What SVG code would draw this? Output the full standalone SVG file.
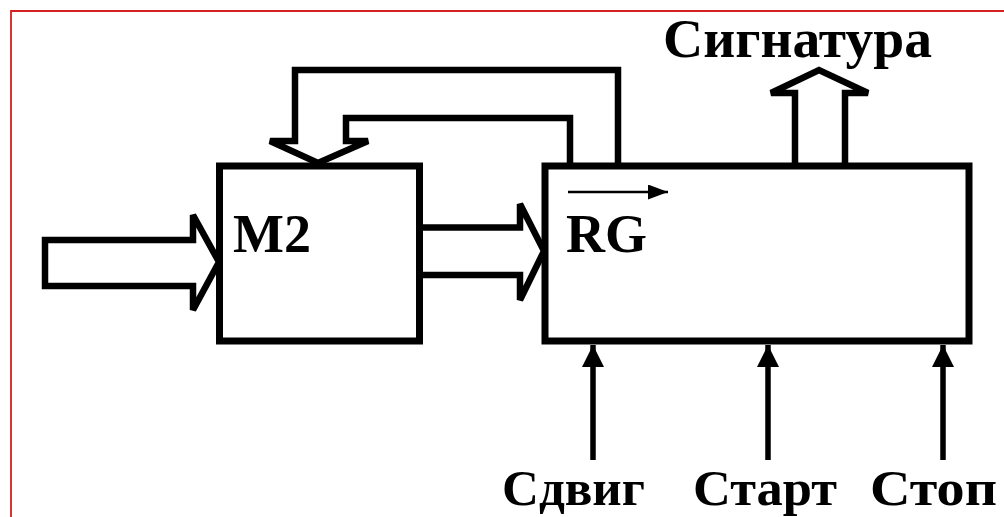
<svg xmlns="http://www.w3.org/2000/svg" width="1004" height="517" viewBox="0 0 1004 517">
<style>
.box{fill:none;stroke:#000;stroke-width:7;stroke-linejoin:miter}
.bus{fill:none;stroke:#000;stroke-width:6.5;stroke-linejoin:miter;stroke-linecap:square}
.sig{fill:none;stroke:#000;stroke-width:5.5}
.lbl{font-family:"Liberation Serif","Times New Roman",serif;font-weight:bold;fill:#000}
</style>
<defs>
<marker id="ah" markerWidth="4" markerHeight="4" refX="4" refY="2" orient="auto" markerUnits="strokeWidth">
<path d="M0,0 L4,2 L0,4 Z" fill="#000"/>
</marker>
<marker id="sm" markerWidth="8" markerHeight="6" refX="8" refY="3" orient="auto" markerUnits="strokeWidth">
<path d="M0,0 L8,3 L0,6 Z" fill="#000"/>
</marker>
</defs>
<rect x="0" y="0" width="1004" height="517" fill="#fff"/>
<path d="M11,517 V11 H1004" fill="none" stroke="#d42020" stroke-width="1.8"/>

<g id="M2">
<rect class="box" x="219.5" y="166" width="200" height="175"/>
<text class="lbl" x="233" y="252" font-size="54">M2</text>
</g>

<g id="RG">
<rect class="box" x="545" y="166" width="424" height="175"/>
<text class="lbl" x="566" y="252" font-size="54">RG</text>
<line x1="568" y1="192" x2="668" y2="192" stroke="#000" stroke-width="2.5" marker-end="url(#sm)"/>
</g>

<g id="connectors">
<path class="bus" d="M45,240 H193 V215 L219,262 L193,310 V286 H45 Z"/>
<path class="bus" d="M423,227.5 H520 V204 L544,251 L520,300 V275 H423"/>
<path class="bus" d="M618,163 V70 H295 V141 H270 L318,163 L368,141 H346 V118 H570 V163"/>
<path class="bus" d="M795,163 V93 H771 L819,70 L868,93 H845 V163"/>
<line class="sig" x1="593" y1="460" x2="593" y2="345" marker-end="url(#ah)"/>
<line class="sig" x1="768" y1="460" x2="768" y2="345" marker-end="url(#ah)"/>
<line class="sig" x1="943" y1="460" x2="943" y2="345" marker-end="url(#ah)"/>
</g>

<g id="labels">
<text class="lbl" x="663" y="57" font-size="55" textLength="269" lengthAdjust="spacingAndGlyphs">Сигнатура</text>
<text class="lbl" x="502" y="505" font-size="51" textLength="143" lengthAdjust="spacingAndGlyphs">Сдвиг</text>
<text class="lbl" x="693" y="505" font-size="51" textLength="144" lengthAdjust="spacingAndGlyphs">Старт</text>
<text class="lbl" x="870" y="505" font-size="51" textLength="127" lengthAdjust="spacingAndGlyphs">Стоп</text>
</g>
</svg>
